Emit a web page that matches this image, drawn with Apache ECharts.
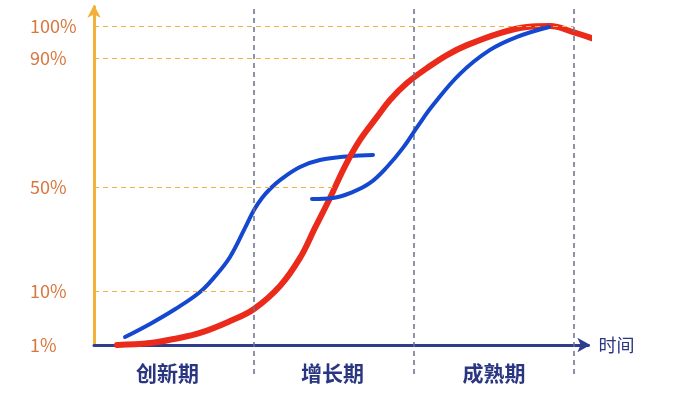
<!DOCTYPE html>
<html>
<head>
<meta charset="utf-8">
<script src="https://cdn.jsdelivr.net/npm/echarts@6/dist/echarts.min.js"></script>
<style>html,body{margin:0;padding:0;background:#fff}#c{width:677px;height:405px}</style>
</head>
<body>
<div id="c"></div>
<script>
// Phases (x axis, one unit per phase)
const phaseNames = ['创新期', '增长期', '成熟期'];
const phaseCenters = [0.46, 1.49, 2.5];
const phaseBounds = [1, 2, 3];
// Y tick labels and their positions on the (decorative) y scale
const yTickLabels = ['1%', '10%', '50%', '90%', '100%'];
const yTickPos = [0, 17, 49.5, 90, 100];
// How far each horizontal guide line extends along x
const yGuideEnds = [0, 1, 1.5, 2, 3];
// Red curve (main S-curve)
const redX = [0.144, 0.35, 0.5, 0.6625, 0.85, 1.0, 1.1625, 1.2875, 1.381, 1.475, 1.569, 1.6625, 1.769, 1.85, 1.956, 2.081, 2.206, 2.331, 2.5375, 2.706, 2.85, 2.994, 3.144];
const redY = [0, 0.6, 1.9, 3.8, 7.5, 11.3, 18.5, 27.3, 36.7, 46.1, 56.1, 64.3, 71.5, 76.8, 82.1, 86.8, 90.9, 94.0, 97.8, 99.7, 100, 98.1, 95.6];
// Blue curve, first part
const blue1X = [0.194, 0.35, 0.506, 0.6625, 0.756, 0.85, 0.944, 1.0, 1.05, 1.1, 1.1625, 1.2875, 1.4125, 1.6, 1.744];
const blue1Y = [2.5, 6.6, 11.2, 16.6, 21.5, 27.6, 36.7, 42.3, 46.1, 48.9, 51.7, 55.8, 58.0, 59.2, 59.6];
// Blue curve, second part
const blue2X = [1.3625, 1.494, 1.619, 1.725, 1.831, 1.931, 2.025, 2.119, 2.2875, 2.475, 2.644, 2.844];
const blue2Y = [45.8, 46.1, 48.0, 50.8, 55.8, 61.8, 68.7, 75.2, 85.0, 92.5, 96.6, 99.7];

const zip = (xs, ys) => xs.map((x, i) => [x, ys[i]]);
const font = '"Noto Sans CJK SC", "Noto Sans", sans-serif';
const chart = echarts.init(document.getElementById('c'), null, {renderer: 'canvas'});

chart.setOption({
  animation: false,
  backgroundColor: '#fff',
  grid: [
    {left: 94, right: 88.6, top: 6.86, bottom: 60, containLabel: false},
    {left: 94, right: 88.6, top: 7, bottom: 31, containLabel: false}
  ],
  xAxis: [
    {
      gridIndex: 0, type: 'value', min: 0, max: 3.09,
      splitLine: {show: false},
      axisTick: {show: false},
      axisLine: {show: true, lineStyle: {color: '#2e3d8c', width: 3}, symbol: ['none', 'arrow'], symbolSize: [11, 13], symbolOffset: [0, 2]},
      axisLabel: {
        customValues: phaseCenters,
        formatter: v => phaseNames[phaseCenters.indexOf(v)] || '',
        color: '#2a3680', fontSize: 21, fontWeight: 'bold', fontFamily: font, margin: 18
      },
      name: '时间', nameLocation: 'end', nameGap: 10,
      nameTextStyle: {color: '#2a3680', fontSize: 18, fontFamily: font, verticalAlign: 'middle'}
    },
    {gridIndex: 1, type: 'value', min: 0, max: 3.09, show: false}
  ],
  yAxis: [
    {
      gridIndex: 0, type: 'value', min: 0, max: 106,
      splitLine: {show: false},
      axisTick: {show: false},
      axisLine: {show: true, lineStyle: {color: '#f3b03a', width: 3}, symbol: ['none', 'arrow'], symbolSize: [10, 13], symbolOffset: [0, 2]},
      axisLabel: {
        customValues: yTickPos,
        formatter: v => yTickLabels[yTickPos.indexOf(v)] || '',
        color: '#d8773f', fontSize: 18, fontFamily: font, align: 'left', margin: 64
      }
    },
    {gridIndex: 1, type: 'value', min: 0, max: 1, show: false}
  ],
  series: [
    {
      type: 'line', xAxisIndex: 1, yAxisIndex: 1, data: [], z: 1,
      markLine: {
        silent: true, symbol: 'none', label: {show: false},
        lineStyle: {color: '#6b6f8e', width: 1.5, type: [5, 4]},
        data: phaseBounds.map(b => ({xAxis: b}))
      }
    },
    {
      type: 'line', data: [], z: 1,
      markLine: {
        silent: true, symbol: 'none', label: {show: false},
        lineStyle: {color: '#eeb248', width: 1.2, type: [5, 4]},
        data: yTickPos.map((p, i) => [{coord: [0, p]}, {coord: [yGuideEnds[i], p]}]).filter((d, i) => yGuideEnds[i] > 0)
      }
    },
    {
      name: 'blue1', type: 'line', smooth: 0.4, showSymbol: false, z: 3,
      lineStyle: {color: '#1548d0', width: 4, cap: 'round'},
      data: zip(blue1X, blue1Y)
    },
    {
      name: 'red', type: 'line', smooth: 0.4, showSymbol: false, z: 4,
      lineStyle: {color: '#ea2a1a', width: 6, cap: 'round'},
      data: zip(redX, redY)
    },
    {
      name: 'blue2', type: 'line', smooth: 0.4, showSymbol: false, z: 5,
      lineStyle: {color: '#1548d0', width: 4, cap: 'round'},
      data: zip(blue2X, blue2Y)
    }
  ]
});
</script>
</body>
</html>
